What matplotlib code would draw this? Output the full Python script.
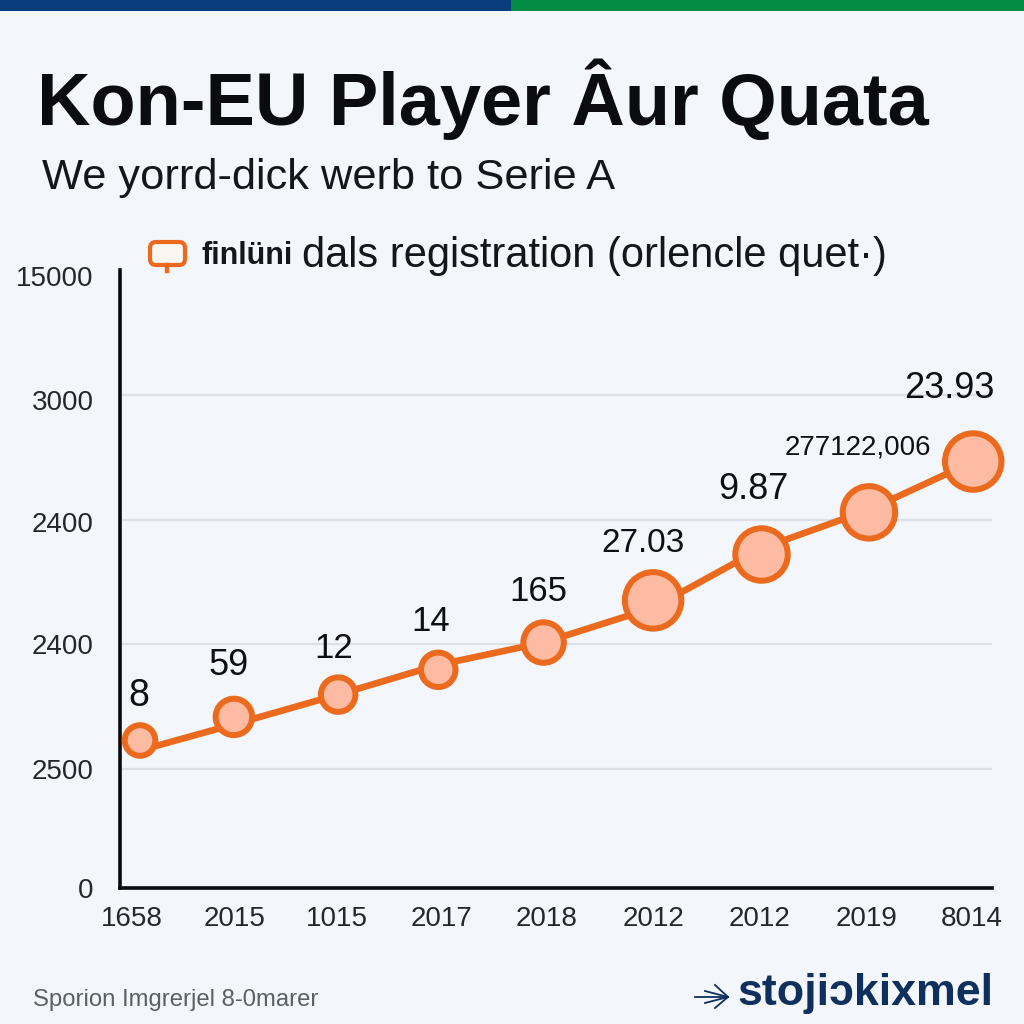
import matplotlib
matplotlib.use('Agg')
import matplotlib.pyplot as plt
from matplotlib.patches import FancyBboxPatch, Rectangle

title = 'Kon-EU Player Âur Quata'
subtitle = 'We yorrd-dick werb to Serie A'
legend_odd = 'finlüni'
legend_text = 'dals registration (orlencle quet·)'
footer = 'Sporion Imgrerjel 8-0marer'
brand = 'stojiɔkixmel'

x_labels = ['1658', '2015', '1015', '2017', '2018', '2012', '2012', '2019', '8014']
x_ticks = [-0.07, 0.92, 1.90, 2.90, 3.91, 4.93, 5.95, 6.98, 7.99]
y_labels = ['0', '2500', '2400', '2400', '3000', '15000']
y_ticks = [0, 0.96, 1.97, 2.95, 3.935, 4.94]
grid_y = [0.96, 1.97, 2.97, 3.98]

x_vals = [0.01, 0.91, 1.91, 2.87, 3.88, 4.93, 5.97, 7.00, 8.00]
y_vals = [1.19, 1.38, 1.56, 1.76, 1.98, 2.32, 2.69, 3.03, 3.44]
# the line runs a little off the marker centres in the picture
line_y = [1.11, 1.32, 1.56, 1.80, 1.98, 2.26, 2.74, 3.05, 3.44]
bubble = [484, 690, 617, 617, 851, 1655, 1428, 1428, 1655]
point_labels = ['8', '59', '12', '14', '165', '27.03', '9.87', '277122,006', '23.93']
label_size = [27, 26, 25, 25, 25, 24, 26, 20, 26]
label_dx = [-1, -5, -4, -8, -5, -10, -8, -11, -24]
label_dy = [-44, -51, -46, -48, -51, -57, -65, -65, -73]

BG = '#F3F6FA'
ORANGE = '#EC6A1E'
FILL = '#FDBBA3'
NAVY = '#0F2F5C'

fig = plt.figure(figsize=(10.24, 10.24), dpi=100, facecolor=BG)

# pixel overlay for the header, legend and footer
bg = fig.add_axes([0, 0, 1, 1], zorder=0)
bg.set_xlim(0, 1024)
bg.set_ylim(1024, 0)
bg.axis('off')
bg.add_patch(Rectangle((0, 0), 511, 11, color='#0A3D7C', lw=0))
bg.add_patch(Rectangle((511, 0), 513, 11, color='#038A43', lw=0))
bg.text(37, 99, title, fontsize=53.3, fontweight='bold', family='Liberation Sans',
        color='#0B0B10', va='center', ha='left')
bg.text(42, 178, subtitle, fontsize=31.2, family='Liberation Sans', color='#14161A',
        va='center', ha='left')
bg.add_patch(FancyBboxPatch((150, 242), 35, 23, boxstyle='round,pad=0,rounding_size=6',
                            fc='#FBF6F1', ec=ORANGE, lw=3))
bg.plot([167, 167], [265, 271], color=ORANGE, lw=3.2)
bg.text(201, 256, legend_odd, fontsize=22, fontweight='bold', family='Liberation Sans',
        color='#14161A', va='center', ha='left')
bg.text(302, 256, legend_text, fontsize=30, family='Liberation Sans', color='#14161A',
        va='center', ha='left')
bg.text(33, 1000, footer, fontsize=17.2, family='Liberation Sans', color='#5A6068',
        va='center', ha='left')
bg.text(993, 994, brand, fontsize=32.2, fontweight='bold',
        family=['Liberation Sans', 'DejaVu Sans'], color=NAVY, va='center', ha='right')
bg.plot([695, 728], [997, 997], color=NAVY, lw=1.3)
bg.plot([705, 728], [991, 997], color=NAVY, lw=1.3)
bg.plot([705, 728], [1003, 997], color=NAVY, lw=1.3)
bg.plot([715, 728, 715], [985, 997, 1008], color=NAVY, lw=1.3)

ax = fig.add_axes([120 / 1024, 1 - 888 / 1024, 872 / 1024, 618 / 1024], zorder=1)
ax.patch.set_alpha(0)
ax.set_xlim(-0.182, 8.18)
ax.set_ylim(0, 4.985)

ax.plot(x_vals, line_y, color=ORANGE, lw=4.8, zorder=3, clip_on=False)
ax.scatter(x_vals, y_vals, s=bubble, facecolor=FILL, edgecolor=ORANGE, linewidth=4.3,
           zorder=4, clip_on=False)

for x, y, lab, size, dx, dy in zip(x_vals, y_vals, point_labels, label_size, label_dx, label_dy):
    ax.annotate(lab, (x, y), xytext=(dx * 0.72, -dy * 0.72), textcoords='offset points',
                ha='center', va='center', fontsize=size, family='Liberation Sans',
                color='#0E0F12', zorder=5, annotation_clip=False)

ax.set_xticks(x_ticks)
ax.set_xticklabels(x_labels, fontsize=20, family='Liberation Sans', color='#24272B')
ax.set_yticks(y_ticks)
ax.set_yticklabels(y_labels, fontsize=20, family='Liberation Sans', color='#24272B')
ax.tick_params(axis='x', length=0, pad=13)
ax.tick_params(axis='y', length=0, pad=19)

# grid stops short of the top tick
for y in grid_y:
    ax.axhline(y, color='#DDE1E6', lw=1.6, zorder=1)

ax.spines['top'].set_visible(False)
ax.spines['right'].set_visible(False)
ax.spines['left'].set_linewidth(2.6)
ax.spines['bottom'].set_linewidth(2.6)
ax.spines['left'].set_color('#0B0B10')
ax.spines['bottom'].set_color('#0B0B10')

fig.savefig('out.png', dpi=100, facecolor=BG)
